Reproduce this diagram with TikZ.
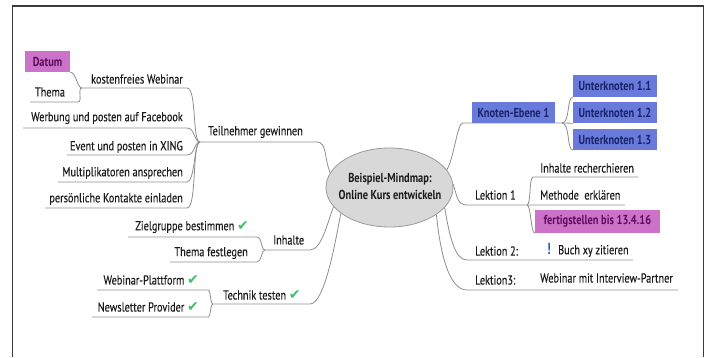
\documentclass[tikz,border=0pt]{standalone}
\usepackage{fontspec}
\usetikzlibrary{shapes.geometric}
\newfontfamily\mmfont[FakeStretch=0.79,FakeBold=0.3]{PT Sans}
\newfontfamily\mmbox[FakeStretch=0.8]{PT Sans Bold}
\newfontfamily\dejavu{DejaVu Sans}
\definecolor{linec}{HTML}{8E8E8E}
\definecolor{txtc}{HTML}{1A1A1A}
\definecolor{pinkc}{HTML}{CC72C8}
\definecolor{pinktxt}{HTML}{5E0C5C}
\definecolor{bluec}{HTML}{6A7ADA}
\definecolor{bluetxt}{HTML}{18246A}
\definecolor{ellfill}{HTML}{D8D8D8}
\definecolor{ellline}{HTML}{9A9A9A}
\definecolor{chkc}{HTML}{3CBF6A}
\definecolor{bangc}{HTML}{2468B8}
\definecolor{framec}{HTML}{3A3A3A}
\newcommand{\chk}{{\dejavu\color{chkc}\fontsize{14}{14}\selectfont ✔}}
\begin{document}
\begin{tikzpicture}[x=1pt,y=-1pt,
  lbl/.style={font=\mmfont\fontsize{13}{14}\selectfont, inner sep=0pt, text=txtc},
  ln/.style={draw=linec, line width=0.8pt},
  pinkbox/.style={lbl, font=\mmbox\fontsize{13}{14}\selectfont, fill=pinkc, text=pinktxt},
  bluebox/.style={lbl, font=\mmbox\fontsize{13}{14}\selectfont, fill=bluec, text=bluetxt},
]
\useasboundingbox (0,0) rectangle (709,357);
\draw[framec, line width=1.4pt] (12.5,357) -- (12.5,6) -- (703.5,6) -- (703.5,357);

% ---------- centre
\node[ellipse, draw=ellline, fill=ellfill, line width=0.8pt, minimum width=127pt, minimum height=79pt, inner sep=0pt] (c) at (389.5,187.5) {};
\node[lbl, font=\mmbox\fontsize{13}{17}\selectfont, align=center] (ctitle) at (390,186) {Beispiel-Mindmap:\\Online Kurs entwickeln};

% ---------- Teilnehmer gewinnen
\node[pinkbox, minimum width=45pt, minimum height=21pt] (datum) at (47.5,61.5) {Datum};
\node[lbl] (thema) at (50,92) {Thema};
\node[lbl, anchor=east] (kw) at (183,79) {kostenfreies Webinar};
\node[lbl, anchor=east] (wb) at (183,118) {Werbung und posten auf Facebook};
\node[lbl, anchor=east] (ev) at (183,147) {Event und posten in XING};
\node[lbl, anchor=east] (mu) at (183,173) {Multiplikatoren ansprechen};
\node[lbl, anchor=east] (pk) at (183,199) {persönliche Kontakte einladen};
\node[lbl, anchor=west] (tg) at (208,132) {Teilnehmer gewinnen};

\coordinate (thL) at (30,102);  \coordinate (thR) at (78,102);
\coordinate (kwL) at (82,88);   \coordinate (kwR) at (187,88);
\coordinate (wbL) at (23,128);  \coordinate (wbR) at (187,128);
\coordinate (evL) at (67,155);  \coordinate (evR) at (187,155);
\coordinate (muL) at (58,182);  \coordinate (muR) at (187,182);
\coordinate (pkL) at (45,208);  \coordinate (pkR) at (187,208);
\coordinate (tgL) at (200,142); \coordinate (tgR) at (317,142);

\draw[ln] (thL) -- (thR) .. controls +(5,0) and +(-5,0) .. (kwL);
\draw[ln] (datum.south east) .. controls +(6,0) and +(-5,0) .. (kwL);
\draw[ln] (kwL) -- (kwR) .. controls +(10,0) and +(-8,0) .. (tgL);
\draw[ln] (wbL) -- (wbR) .. controls +(8,0) and +(-6,0) .. (tgL);
\draw[ln] (evL) -- (evR) .. controls +(8,0) and +(-6,0) .. (tgL);
\draw[ln] (muL) -- (muR) .. controls +(8,0) and +(-6,0) .. (tgL);
\draw[ln] (pkL) -- (pkR) .. controls +(10,0) and +(-8,0) .. (tgL);
\draw[ln] (tgL) -- (tgR) .. controls +(10,0) and +(-6,-14) .. (c.166);

% ---------- Inhalte
\node[lbl, anchor=east] (zg) at (249,227) {Zielgruppe bestimmen \chk};
\node[lbl, anchor=east] (tf) at (248,253) {Thema festlegen};
\node[lbl, anchor=west] (ih) at (273,240) {Inhalte};
\coordinate (zgL) at (128,237); \coordinate (zgR) at (257,237);
\coordinate (tfL) at (170,262); \coordinate (tfR) at (257,262);
\coordinate (ihL) at (265,250); \coordinate (ihR) at (310,250);
\draw[ln] (zgL) -- (zgR) .. controls +(5,0) and +(-4,0) .. (ihL);
\draw[ln] (tfL) -- (tfR) .. controls +(5,0) and +(-4,0) .. (ihL);
\draw[ln] (ihL) -- (ihR) .. controls +(12,0) and +(-5,12) .. (c.199);

% ---------- Technik testen
\node[lbl, anchor=east] (wp) at (199,280) {Webinar-Plattform \chk};
\node[lbl, anchor=east] (np) at (199,307) {Newsletter Provider \chk};
\node[lbl, anchor=west] (tt) at (223,295) {Technik testen \chk};
\coordinate (wpL) at (97,290);  \coordinate (wpR) at (208,290);
\coordinate (npL) at (92,317);  \coordinate (npR) at (208,317);
\coordinate (ttL) at (213,304); \coordinate (ttR) at (310,304);
\draw[ln] (wpL) -- (wpR) .. controls +(3,0) and +(-3,0) .. (ttL);
\draw[ln] (npL) -- (npR) .. controls +(3,0) and +(-3,0) .. (ttL);
\draw[ln] (ttL) -- (ttR) .. controls +(15,0) and +(-5,25) .. (c.208);

% ---------- Knoten-Ebene 1
\coordinate (knL) at (463,123); \coordinate (knH) at (562,123);
\draw[ln] (c.17) .. controls +(8,-15) and +(-6,0) .. (knL) -- (knH);
\node[bluebox, minimum width=83pt, minimum height=21pt] (kn) at (513.5,112.5) {Knoten-Ebene 1};
\node[bluebox, minimum width=84pt, minimum height=22pt] (u1) at (615,86) {Unterknoten 1.1};
\node[bluebox, minimum width=84pt, minimum height=21pt] (u2) at (615,112.5) {Unterknoten 1.2};
\node[bluebox, minimum width=84pt, minimum height=21pt] (u3) at (615,139.5) {Unterknoten 1.3};
\draw[ln] (knH) .. controls +(8,0) and +(-6,0) .. (u1.south west);
\draw[ln] (knH) -- (u2.south west);
\draw[ln] (knH) .. controls +(8,0) and +(-6,0) .. (u3.south west);

% ---------- Lektion 1
\node[lbl, anchor=west] (l1) at (475,195) {Lektion 1};
\node[lbl, anchor=west] (ir) at (540,168) {Inhalte recherchieren};
\node[lbl, anchor=west] (me) at (540,195) {Methode\ \ erklären};
\node[pinkbox, minimum width=125pt, minimum height=23pt] (fs) at (597.5,221.5) {fertigstellen bis 13.4.16};
\coordinate (l1L) at (467,205); \coordinate (l1H) at (527,205);
\coordinate (irL) at (533,177); \coordinate (irR) at (638,177);
\coordinate (meR) at (625,205);
\draw[ln] (c.3) .. controls +(4,12) and +(-10,0) .. (l1L) -- (l1H) -- (meR);
\draw[ln] (l1H) .. controls +(4,0) and +(-4,0) .. (irL) -- (irR);
\draw[ln] (l1H) .. controls +(4,0) and +(-4,0) .. (fs.south west);

% ---------- Lektion 2 / 3
\node[lbl, anchor=west] (l2) at (475,251) {Lektion 2:};
\node[lbl, anchor=west, text=bangc, font=\mmbox\fontsize{16}{16}\selectfont] (bang) at (547,249) {!};
\node[lbl, anchor=west] (bx) at (558,251) {Buch xy zitieren};
\coordinate (l2L) at (467,260); \coordinate (l2R) at (633,260);
\draw[ln] (c.-20) .. controls +(5,30) and +(-12,0) .. (l2L) -- (l2R);

\node[lbl, anchor=west] (l3) at (475,280) {Lektion3:};
\node[lbl, anchor=west] (wi) at (540,278) {Webinar mit Interview-Partner};
\coordinate (l3L) at (467,290); \coordinate (l3R) at (678,290);
\draw[ln] (c.-30) .. controls +(5,50) and +(-15,0) .. (l3L) -- (l3R);
\end{tikzpicture}
\end{document}
